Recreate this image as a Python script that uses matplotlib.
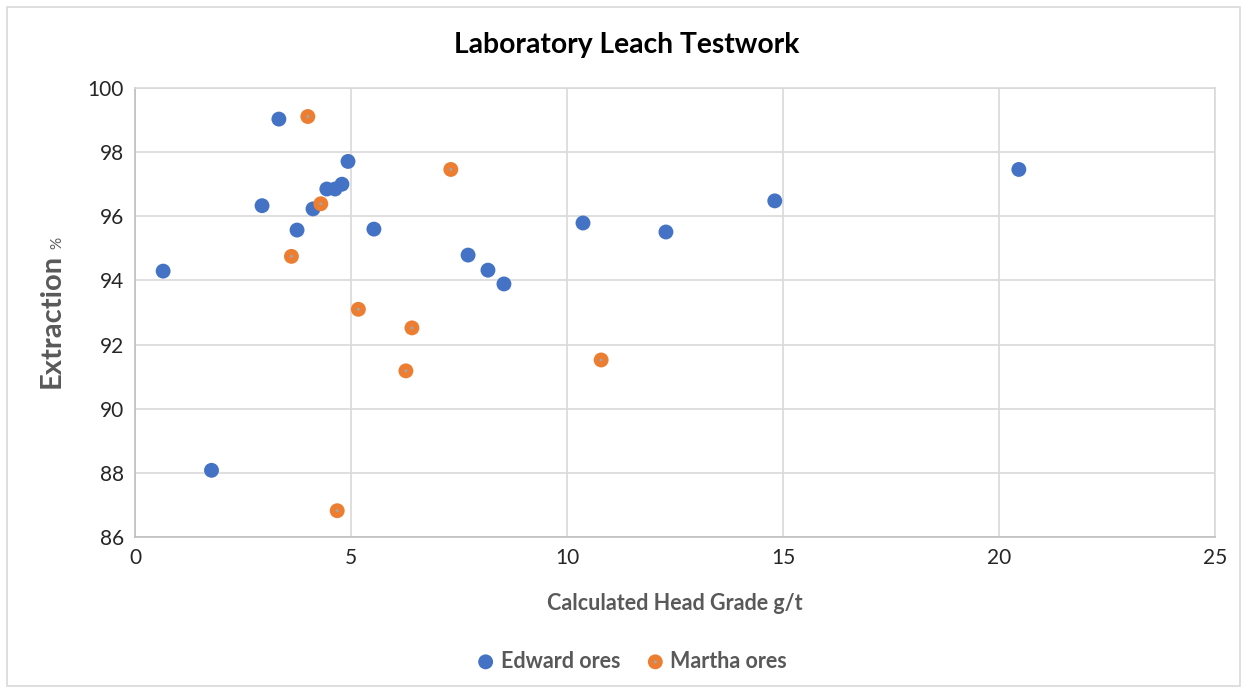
import matplotlib.pyplot as plt
from matplotlib.patches import Rectangle
from matplotlib.legend_handler import HandlerTuple

plt.rcParams['font.family'] = ['Lato', 'DejaVu Sans']

# Edward ores
edward_grade = [0.65, 1.77, 2.94, 3.33, 3.75, 4.12, 4.44, 4.63, 4.79, 4.93,
                5.53, 7.71, 8.17, 8.54, 10.37, 12.29, 14.81, 20.46]
edward_ext = [94.29, 88.08, 96.33, 99.03, 95.57, 96.23, 96.85, 96.85, 97.0, 97.71,
              95.60, 94.79, 94.32, 93.89, 95.79, 95.51, 96.48, 97.46]

# Martha ores
martha_grade = [3.62, 4.0, 4.30, 4.68, 5.17, 6.27, 6.41, 7.31, 10.79]
martha_ext = [94.75, 99.11, 96.39, 86.82, 93.10, 91.18, 92.52, 97.46, 91.52]

blue = '#4472C4'
orange = '#ED7D31'
grey_txt = '#595959'

fig = plt.figure(figsize=(12.47, 6.9), dpi=100)
fig.patches.append(Rectangle((0.006, 0.006), 0.988, 0.984, transform=fig.transFigure,
                             fill=False, edgecolor='#d9d9d9', linewidth=1.2))

ax = fig.add_axes([0.1083, 0.2217, 0.8660, 0.6508])

e = ax.scatter(edward_grade, edward_ext, s=115, color=blue, edgecolors='none', zorder=3)
m = ax.scatter(martha_grade, martha_ext, s=115, color=orange, edgecolors='none', zorder=3)
md = ax.scatter(martha_grade, martha_ext, s=5, color='#a5a5a5', edgecolors='none', zorder=4)

ax.set_xlim(0, 25)
ax.set_ylim(86, 100)
ax.set_xticks(range(0, 26, 5))
ax.set_yticks(range(86, 101, 2))
ax.grid(True, color='#d9d9d9', linewidth=1.2)
ax.set_axisbelow(True)
for sp in ax.spines.values():
    sp.set_color('#d9d9d9')
    sp.set_linewidth(1.2)
ax.spines['left'].set_color('#bfbfbf')
ax.spines['bottom'].set_color('#bfbfbf')
ax.tick_params(length=0, labelsize=15, colors='#262626', pad=8)

fig.text(627 / 1247, 1 - 45 / 690, 'Laboratory Leach Testwork', fontsize=20.3,
         fontweight='bold', color='#000000', ha='center', va='center')
fig.text(675 / 1247, 1 - 603 / 690, 'Calculated Head Grade g/t', fontsize=15.5,
         fontweight='bold', color=grey_txt, ha='center', va='center')

fig.text(52 / 1247, 1 - 321 / 690, 'Extraction', rotation=90, fontsize=21,
         fontweight='bold', color=grey_txt, ha='center', va='center')
fig.text(57 / 1247, 1 - 243 / 690, '%', rotation=90, fontsize=11, color=grey_txt,
         ha='center', va='center')

fig.legend([e, (m, md)], ['Edward ores', 'Martha ores'], loc='center',
           bbox_to_anchor=(631 / 1247, 1 - 661 / 690), ncol=2, frameon=False,
           prop={'size': 15.5, 'weight': 'bold'}, labelcolor=grey_txt,
           handlelength=1.0, handletextpad=0.2, columnspacing=1.13,
           handler_map={tuple: HandlerTuple(ndivide=1, pad=0)})

fig.savefig('out.png', dpi=100)
